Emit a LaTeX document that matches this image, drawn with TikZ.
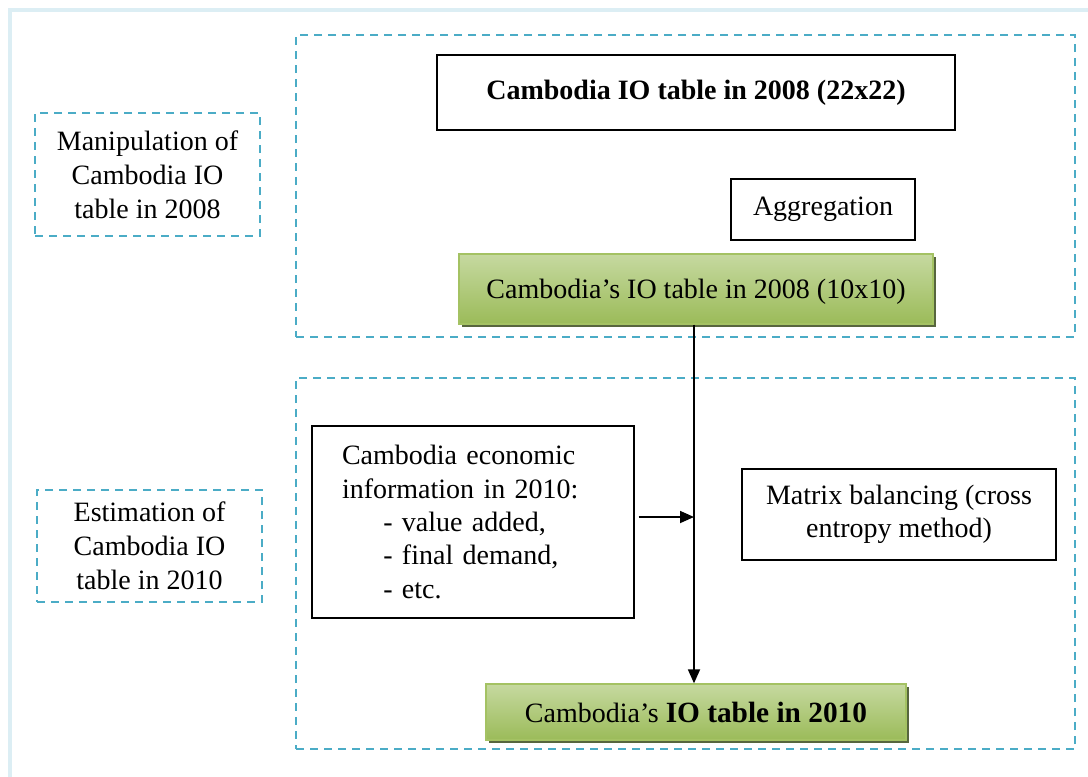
\documentclass[tikz,border=0pt]{standalone}
\usepackage{fontspec}
\setmainfont{Liberation Serif}
\usetikzlibrary{arrows.meta,shadows}
\definecolor{aqua}{HTML}{4BACC6}
\definecolor{framecol}{HTML}{DCEEF4}
\definecolor{gtop}{HTML}{C6D9A0}
\definecolor{gbot}{HTML}{9BBB59}
\definecolor{gedge}{HTML}{A4C263}
\definecolor{gshadow}{HTML}{4F5E34}
\begin{document}
\begin{tikzpicture}[x=0.75pt,y=-0.75pt,
  txt/.style={font=\fontsize{21pt}{25pt}\selectfont},
  zone/.style={draw=aqua, line width=1.5pt, dash pattern=on 6pt off 4.5pt, inner sep=0pt},
  plainbox/.style={draw=black, line width=1pt, fill=white, txt, align=center, inner sep=0pt,
    drop shadow={shadow xshift=1pt, shadow yshift=-1pt, fill=black, opacity=0.35}},
  greenbox/.style={draw=gedge, line width=1pt, top color=gtop, bottom color=gbot, txt, inner sep=0pt,
    text depth=0pt, drop shadow={shadow xshift=2.5pt, shadow yshift=-2.5pt, fill=gshadow, opacity=0.95}},
  flow/.style={line width=1.3pt, -{Triangle[length=10.5pt,width=9pt]}}]

% page and outer frame
\clip (0,0) rectangle (1088,776);
\fill[white] (0,0) rectangle (1088,776);
\draw[framecol, line width=3pt] (10,10) rectangle (1120,800);

% stage zones
\node[zone, minimum width=584.25pt, minimum height=226.5pt] (zoneA) at (685.5,186) {};
\node[zone, minimum width=584.25pt, minimum height=278.25pt] (zoneB) at (685.5,563.5) {};

% stage labels
\node[zone, txt, align=center, minimum width=168.75pt, minimum height=92.25pt,
  font=\fontsize{21pt}{25.5pt}\selectfont] (labA) at (147.5,174.5)
  {Manipulation of\\Cambodia IO\\table in 2008};
\node[zone, txt, align=center, minimum width=168.75pt, minimum height=84pt,
  font=\fontsize{21pt}{25.5pt}\selectfont] (labB) at (149.5,546)
  {Estimation of\\Cambodia IO\\table in 2010};

% process boxes
\node[plainbox, minimum width=388.5pt, minimum height=56.25pt] (io22) at (696,92.5)
  {\textbf{Cambodia IO table in 2008 (22x22)}};
\node[plainbox, minimum width=138pt, minimum height=45.75pt] (agg) at (823,209.5) {Aggregation};
\node[greenbox, minimum width=355.5pt, minimum height=52.5pt] (io10) at (696,289)
  {Cambodia’s IO table in 2008 (10x10)};
\node[plainbox, align=left, text width=196.5pt, inner xsep=22.5pt, minimum height=144pt] (econ) at (473,522)
  {Cambodia economic\\information in 2010:\\\hspace*{31pt}- value added,\\\hspace*{31pt}- final demand,\\\hspace*{31pt}- etc.};
\node[plainbox, minimum width=235.5pt, minimum height=68.25pt] (mat) at (899,514.5)
  {Matrix balancing (cross\\entropy method)};
\node[greenbox, minimum width=315pt, minimum height=42pt] (io2010) at (696,712)
  {Cambodia’s \textbf{\fontsize{22pt}{25pt}\selectfont IO table in 2010}};

% connectors
\coordinate (join) at (694,517);
\draw[flow] (io10.south -| join) -- (io2010.north -| join);
\draw[flow, shorten <=3pt] (econ.east |- join) -- (join);
\end{tikzpicture}
\end{document}
